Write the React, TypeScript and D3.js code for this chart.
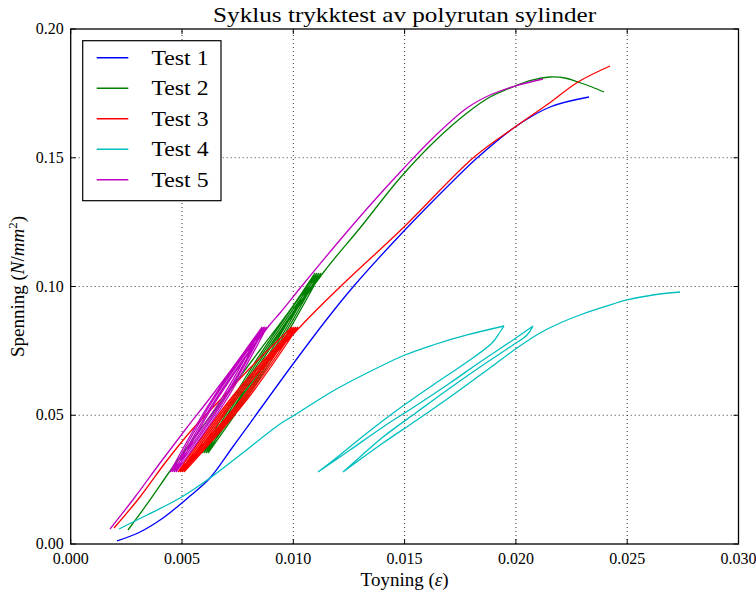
import React from "react";
import * as d3 from "d3";

// ---------- data (strain, stress) ----------
const test1: [number, number][] = [
  [0.00208, 0.00117], [0.003113, 0.00466], [0.004146, 0.0101], [0.005359, 0.01864],
  [0.006258, 0.02563], [0.007246, 0.03728], [0.00819, 0.04854], [0.009987, 0.0699],
  [0.011514, 0.08738], [0.012682, 0.09981], [0.014928, 0.12117], [0.01704, 0.13981],
  [0.018253, 0.1499], [0.01996, 0.16194], [0.021532, 0.16971], [0.023284, 0.17359],
];

const test2: [number, number][] = [
  // initial loading
  [0.002574, 0.00544], [0.003562, 0.01709], [0.004461, 0.02835], [0.005809, 0.04427],
  [0.007156, 0.05981], [0.008504, 0.07534], [0.009852, 0.09087], [0.010975, 0.10524],
  // cycles
  [0.008661, 0.07029], [0.005899, 0.03534], [0.008257, 0.07029], [0.011065, 0.10524],
  [0.008751, 0.07029], [0.005988, 0.03534], [0.008347, 0.07029], [0.011154, 0.10524],
  [0.008841, 0.07029], [0.006078, 0.03534], [0.008437, 0.07029], [0.011244, 0.10524],
  [0.008931, 0.07029], [0.006168, 0.03534], [0.008527, 0.07029], [0.011334, 0.10524],
  // final loading
  [0.012997, 0.12272], [0.014794, 0.14214], [0.016366, 0.15651], [0.017803, 0.16738],
  [0.018837, 0.17359], [0.01996, 0.17786], [0.020723, 0.18019], [0.021532, 0.18136],
  [0.022206, 0.18097], [0.022791, 0.17942], [0.023419, 0.17748], [0.023958, 0.17553],
];

const test3: [number, number][] = [
  // initial loading
  [0.001945, 0.00621], [0.003113, 0.01825], [0.004236, 0.03146], [0.005359, 0.0435],
  [0.006707, 0.05592], [0.00828, 0.07029], [0.009942, 0.08427],
  // cycles
  [0.007651, 0.05612], [0.00482, 0.02796], [0.007156, 0.05612], [0.010031, 0.08427],
  [0.00774, 0.05612], [0.00491, 0.02796], [0.007246, 0.05612], [0.010121, 0.08427],
  [0.00783, 0.05612], [0.005, 0.02796], [0.007336, 0.05612], [0.010211, 0.08427],
  [0.00792, 0.05612], [0.00509, 0.02796], [0.007426, 0.05612], [0.010301, 0.08427],
  // final loading
  [0.012098, 0.09981], [0.014973, 0.12311], [0.018073, 0.1499], [0.01996, 0.16194],
  [0.021442, 0.17087], [0.022791, 0.17942], [0.024228, 0.18563],
];

const test4: [number, number][] = [
  // loading 1
  [0.00217, 0.00583], [0.003428, 0.01126], [0.00491, 0.01786], [0.006258, 0.02563],
  [0.007606, 0.03456], [0.009403, 0.0466], [0.009987, 0.04971], [0.011784, 0.05942],
  [0.013311, 0.06641], [0.015018, 0.0734], [0.016276, 0.07728], [0.017803, 0.08117],
  [0.019466, 0.08466],
  // unload 1
  [0.019286, 0.08233], [0.018927, 0.07806], [0.017803, 0.07068], [0.016276, 0.06175],
  [0.014794, 0.05282], [0.013311, 0.04311], [0.012098, 0.03456], [0.01111, 0.02796],
  // reload 1
  [0.012547, 0.0365], [0.01403, 0.04544], [0.015557, 0.05398], [0.01704, 0.06252],
  [0.018522, 0.07146], [0.01987, 0.07922], [0.020769, 0.08466],
  // unload 2
  [0.020499, 0.08117], [0.01987, 0.07728], [0.018522, 0.06951], [0.01704, 0.06058],
  [0.015557, 0.05126], [0.01403, 0.04155], [0.012997, 0.03379], [0.012233, 0.02796],
  // reload 2 and final loading
  [0.01403, 0.03922], [0.015557, 0.04816], [0.01704, 0.05709], [0.018522, 0.06641],
  [0.02005, 0.07612], [0.021083, 0.08194], [0.021982, 0.08583], [0.02288, 0.08893],
  [0.024093, 0.09243], [0.024991, 0.09476], [0.026159, 0.0967], [0.027372, 0.09786],
];

const test5: [number, number][] = [
  // initial loading
  [0.001766, 0.00583], [0.002889, 0.01825], [0.004012, 0.03146], [0.005135, 0.04427],
  [0.006258, 0.0567], [0.007471, 0.07068], [0.008594, 0.08427],
  // cycles
  [0.006752, 0.05612], [0.004461, 0.02796], [0.006348, 0.05612], [0.008684, 0.08427],
  [0.006842, 0.05612], [0.004551, 0.02796], [0.006415, 0.05612], [0.008729, 0.08427],
  [0.006909, 0.05612], [0.004641, 0.02796], [0.006505, 0.05612], [0.008819, 0.08427],
  [0.006999, 0.05612], [0.00473, 0.02796], [0.006572, 0.05612], [0.008864, 0.08427],
  // final loading
  [0.009403, 0.08971], [0.010346, 0.09981], [0.012098, 0.11806], [0.013536, 0.13243],
  [0.014973, 0.14602], [0.016366, 0.15845], [0.017803, 0.16932], [0.018837, 0.17437],
  [0.01996, 0.17786], [0.021218, 0.18058],
];

const seriesNames = ["Test 1", "Test 2", "Test 3", "Test 4", "Test 5"];
const seriesData = [test1, test2, test3, test4, test5];
const seriesColors = ["#0000ff", "#008000", "#ff0000", "#00bfbf", "#bf00bf"];

const xTicks = [0, 0.005, 0.01, 0.015, 0.02, 0.025, 0.03];
const yTicks = [0, 0.05, 0.1, 0.15, 0.2];

const titleText = "Syklus trykktest av polyrutan sylinder";

const W = 756;
const H = 596;
const L = 70.7, R = 738.5, T = 29, B = 544;
const FONT = "'Liberation Serif', 'DejaVu Serif', serif";

// split a polyline (in pixel space) at points where direction reverses
function splitAtTurns(pts: [number, number][]): [number, number][][] {
  const segs: [number, number][][] = [];
  let cur: [number, number][] = [pts[0]];
  for (let i = 1; i < pts.length; i++) {
    cur.push(pts[i]);
    if (i < pts.length - 1) {
      const d1x = pts[i][0] - pts[i - 1][0], d1y = pts[i][1] - pts[i - 1][1];
      const d2x = pts[i + 1][0] - pts[i][0], d2y = pts[i + 1][1] - pts[i][1];
      if (d1x * d2x + d1y * d2y < 0) {
        segs.push(cur);
        cur = [pts[i]];
      }
    }
  }
  segs.push(cur);
  return segs;
}

export default function App() {
  const x = d3.scaleLinear().domain([0, 0.03]).range([L, R]);
  const y = d3.scaleLinear().domain([0, 0.2]).range([B, T]);
  const line = d3
    .line<[number, number]>()
    .x((d) => d[0])
    .y((d) => d[1])
    .curve(d3.curveCatmullRom.alpha(0.5));

  const pathFor = (s: [number, number][]) => {
    const px = s.map((d) => [x(d[0]), y(d[1])] as [number, number]);
    return splitAtTurns(px)
      .map((seg) => line(seg) || "")
      .join("");
  };

  const tick = 5;

  return (
    <svg
      width={W}
      height={H}
      style={{ position: "absolute", left: 0, top: 0, background: "#fff" }}
      fontFamily={FONT}
    >
      <rect x={0} y={0} width={W} height={H} fill="#fff" />
      {/* grid */}
      <g stroke="#000" strokeWidth={0.8} strokeDasharray="1,3" fill="none">
        {xTicks.slice(1, -1).map((t) => (
          <line key={"gx" + t} x1={x(t)} x2={x(t)} y1={B} y2={T} />
        ))}
        {yTicks.slice(1, -1).map((t) => (
          <line key={"gy" + t} x1={L} x2={R} y1={y(t)} y2={y(t)} />
        ))}
      </g>

      {/* data */}
      <defs>
        <clipPath id="plotclip">
          <rect x={L} y={T} width={R - L} height={B - T} />
        </clipPath>
      </defs>
      <g clipPath="url(#plotclip)" fill="none" strokeWidth={1.3} strokeLinejoin="miter">
        {seriesData.map((s, i) => (
          <path key={i} d={pathFor(s)} stroke={seriesColors[i]} />
        ))}
      </g>

      {/* ticks */}
      <g stroke="#000" strokeWidth={1}>
        {xTicks.map((t) => (
          <g key={"tx" + t}>
            <line x1={x(t)} x2={x(t)} y1={B} y2={B - tick} />
            <line x1={x(t)} x2={x(t)} y1={T} y2={T + tick} />
          </g>
        ))}
        {yTicks.map((t) => (
          <g key={"ty" + t}>
            <line x1={L} x2={L + tick} y1={y(t)} y2={y(t)} />
            <line x1={R} x2={R - tick} y1={y(t)} y2={y(t)} />
          </g>
        ))}
      </g>

      {/* frame */}
      <rect x={L} y={T} width={R - L} height={B - T} fill="none" stroke="#000" strokeWidth={1.3} />

      {/* tick labels */}
      <g fontSize={16} fill="#000">
        {xTicks.map((t) => (
          <text key={"lx" + t} x={x(t)} y={B + 20} textAnchor="middle">
            {d3.format(".3f")(t)}
          </text>
        ))}
        {yTicks.map((t) => (
          <text key={"ly" + t} x={L - 7} y={y(t) + 5} textAnchor="end">
            {d3.format(".2f")(t)}
          </text>
        ))}
      </g>

      {/* title */}
      <text
        x={(L + R) / 2}
        y={22}
        textAnchor="middle"
        fontSize={21}
        fill="#000"
        textLength={383}
        lengthAdjust="spacingAndGlyphs"
      >
        {titleText}
      </text>

      {/* axis labels */}
      <text x={(L + R) / 2} y={586} textAnchor="middle" fontSize={19} fill="#000">
        Toyning (<tspan fontStyle="italic">ε</tspan>)
      </text>
      <text
        transform={`translate(24, ${(T + B) / 2}) rotate(-90)`}
        textAnchor="middle"
        fontSize={19}
        fill="#000"
      >
        Spenning (<tspan fontStyle="italic">N</tspan>/<tspan fontStyle="italic">mm</tspan>
        <tspan fontSize={13} dy={-7}>2</tspan>
        <tspan dy={7}>)</tspan>
      </text>

      {/* legend */}
      <g>
        <rect x={82.7} y={40.7} width={138.3} height={160} fill="#fff" stroke="#000" strokeWidth={1.2} />
        {seriesNames.map((n, i) => (
          <g key={n}>
            <line
              x1={96.7}
              x2={128.3}
              y1={57.7 + i * 30.5}
              y2={57.7 + i * 30.5}
              stroke={seriesColors[i]}
              strokeWidth={1.4}
            />
            <text
              x={151.5}
              y={57.7 + i * 30.5 + 7}
              fontSize={22}
              fill="#000"
              textLength={57}
              lengthAdjust="spacingAndGlyphs"
            >
              {n}
            </text>
          </g>
        ))}
      </g>
    </svg>
  );
}
